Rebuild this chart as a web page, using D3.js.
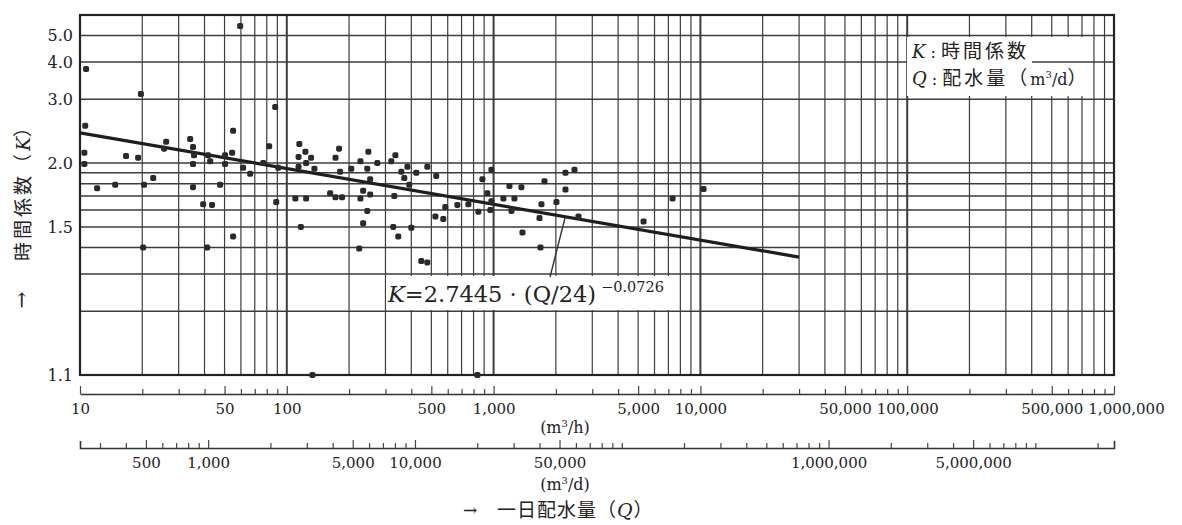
<!DOCTYPE html>
<html>
<head>
<meta charset="utf-8">
<script src="https://cdn.jsdelivr.net/npm/d3@7"></script>
<style>
  body { margin: 0; background: #fff; }
  text { fill: #222; }
</style>
</head>
<body>
<div id="chart"></div>
<script>
// observed flow (m3/h) and hourly peak coefficient K
const flowPerHour = [10.7, 10.6, 10.5, 10.5, 12.1, 14.8, 16.7, 19.1, 19.7, 20.4, 20.2, 22.6, 25.5, 26.1,
  34.1, 35.2, 35.6, 35.2, 35.2, 41.6, 42.6, 39.4, 43.5, 41.2, 47.6, 50.3, 50.3, 54.4, 55.0, 59.5,
  55.0, 61.5, 66.5, 76.9, 82.2, 87.9, 88.9, 90.9, 115, 123, 114, 131, 124, 114, 136, 179, 172, 181,
  205, 227, 248, 274, 245, 253, 335, 320, 358, 370, 162, 172, 185, 110, 124, 227, 234, 253, 245,
  234, 117, 327, 346, 224, 133, 331, 391, 383, 423, 400, 478, 528, 584, 523, 571, 668, 755, 844,
  965, 883, 976, 933, 976, 1115, 1261, 1193, 1363, 1220, 1379, 1762, 1704, 1667, 2013, 2226, 2461,
  2226, 2573, 447, 478, 1685, 835, 5311, 7336, 10360];
const hourCoef = [3.78, 2.50, 2.12, 1.99, 1.76, 1.79, 2.08, 2.06, 3.12, 1.79, 1.40, 1.85, 2.17, 2.26,
  2.30, 2.19, 2.09, 1.99, 1.77, 2.09, 2.02, 1.64, 1.635, 1.40, 1.79, 1.99, 2.09, 2.12, 2.42, 5.44,
  1.45, 1.95, 1.89, 2.00, 2.20, 2.84, 1.655, 1.95, 2.23, 2.13, 2.07, 2.06, 2.00, 1.96, 1.94, 2.17, 2.06, 1.91,
  1.94, 2.02, 2.13, 2.00, 1.94, 1.84, 2.09, 2.02, 1.91, 1.85, 1.72, 1.69, 1.69, 1.68, 1.68, 1.68, 1.74, 1.71, 1.595,
  1.52, 1.50, 1.50, 1.45, 1.395, 1.10, 1.70, 1.79, 1.96, 1.90, 1.495, 1.96, 1.87, 1.62, 1.56, 1.545, 1.635, 1.64, 1.59,
  1.60, 1.84, 1.93, 1.72, 1.66, 1.68, 1.68, 1.78, 1.77, 1.595, 1.47, 1.82, 1.64, 1.55, 1.655, 1.90, 1.93,
  1.75, 1.56, 1.345, 1.34, 1.40, 1.10, 1.53, 1.68, 1.755];

// regression line as drawn
const fitFlow = [10, 30000];
const fitCoef = [2.39, 1.36];

const yTickValues = [5.0, 4.0, 3.0, 2.0, 1.5, 1.1];
const yGridValues = [5, 4, 3, 2, 1.9, 1.8, 1.7, 1.6, 1.5, 1.4, 1.3, 1.2];
const hourLabels = [10, 50, 100, 500, 1000, 5000, 10000, 50000, 100000, 500000, 1000000];
const dayLabels = [500, 1000, 5000, 10000, 50000, 1000000, 5000000];

const width = 1182, height = 525;
const serif = "'DejaVu Serif', 'Liberation Serif', serif";
const cjk = "'Noto Sans CJK JP', sans-serif";
const gridColor = "#3d3d3d";

const svg = d3.select("#chart").append("svg")
  .attr("width", width)
  .attr("height", height);

// x: m3/h, y: log of (K - 1)
const x = d3.scaleLog().domain([10, 1e6]).range([80, 1114]);
const xDay = d3.scaleLog().domain([240, 2.4e7]).range([80, 1114]);
const yLog = d3.scaleLog().domain([0.1, 5]).range([375, 15]);
const y = k => yLog(k - 1);

// every 1..9 x 10^n between the ends
function logSteps(lo, hi) {
  const out = [];
  for (let e = Math.floor(Math.log10(lo)); e <= Math.ceil(Math.log10(hi)); e++) {
    for (let d = 1; d <= 9; d++) {
      const v = d * Math.pow(10, e);
      if (v >= lo * 0.999 && v <= hi * 1.001) out.push(v);
    }
  }
  return out;
}

const grid = svg.append("g");

// horizontal grid
yGridValues.forEach(k => {
  grid.append("line")
    .attr("x1", x(10)).attr("x2", x(1e6))
    .attr("y1", y(k)).attr("y2", y(k))
    .attr("stroke", gridColor)
    .attr("stroke-width", 1.5);
});

// vertical grid
logSteps(10, 1e6).slice(1, -1).forEach(v => {
  const decade = Math.abs(Math.log10(v) - Math.round(Math.log10(v))) < 1e-9;
  grid.append("line")
    .attr("x1", x(v)).attr("x2", x(v))
    .attr("y1", y(6)).attr("y2", y(1.1))
    .attr("stroke", gridColor)
    .attr("stroke-width", decade ? 2 : 1.2);
});

// frame
svg.append("rect")
  .attr("x", x(10)).attr("y", y(6))
  .attr("width", x(1e6) - x(10))
  .attr("height", y(1.1) - y(6))
  .attr("fill", "none")
  .attr("stroke", "#222")
  .attr("stroke-width", 2.2);

// y tick labels
yTickValues.forEach(k => {
  svg.append("text")
    .attr("x", 73)
    .attr("y", y(k))
    .attr("dy", "0.36em")
    .attr("text-anchor", "end")
    .style("font-family", serif)
    .style("font-size", "16px")
    .text(k.toFixed(1));
});

// y title
const yTitle = svg.append("text")
  .attr("transform", "translate(30,188) rotate(-90)")
  .attr("text-anchor", "middle")
  .style("font-family", cjk)
  .style("font-size", "19px")
  .style("letter-spacing", "3px");
yTitle.append("tspan").text("時間係数（");
yTitle.append("tspan").style("font-family", serif).style("font-style", "italic").style("letter-spacing", "0px").text("K");
yTitle.append("tspan").text("）");
svg.append("text")
  .attr("transform", "translate(28,300) rotate(-90)")
  .attr("text-anchor", "middle")
  .style("font-family", serif)
  .style("font-size", "20px")
  .text("→");

// regression line
svg.append("path")
  .datum(fitFlow.map((q, i) => [q, fitCoef[i]]))
  .attr("d", d3.line().x(d => x(d[0])).y(d => y(d[1])))
  .attr("fill", "none")
  .attr("stroke", "#1e1e1e")
  .attr("stroke-width", 3.2);

// points
svg.append("g")
  .selectAll("rect")
  .data(flowPerHour.map((q, i) => [q, hourCoef[i]]))
  .join("rect")
  .attr("x", d => x(d[0]) - 3)
  .attr("y", d => y(d[1]) - 3)
  .attr("width", 6)
  .attr("height", 6)
  .attr("rx", 1.8)
  .attr("fill", "#2a2a2a");

// formula label
svg.append("rect")
  .attr("x", 386).attr("y", 276)
  .attr("width", 292).attr("height", 34)
  .attr("fill", "#fff");
svg.append("line")
  .attr("x1", 565).attr("y1", 218)
  .attr("x2", 550).attr("y2", 277)
  .attr("stroke", "#333")
  .attr("stroke-width", 1.4);
const formula = svg.append("text")
  .attr("x", 388)
  .attr("y", 302)
  .style("font-family", serif)
  .style("font-size", "22.5px");
formula.append("tspan").style("font-style", "italic").text("K");
formula.append("tspan").text("=2.7445 · (Q/24)");
formula.append("tspan").attr("dy", -10).attr("dx", 5).style("font-size", "14.5px").text("−0.0726");

// legend
svg.append("rect")
  .attr("x", 907).attr("y", 37)
  .attr("width", 180).attr("height", 59)
  .attr("fill", "#fff");
const leg1 = svg.append("text").attr("x", 912).attr("y", 58);
leg1.append("tspan").style("font-family", serif).style("font-style", "italic").style("font-size", "18px").text("K");
leg1.append("tspan").style("font-family", serif).style("font-size", "16px").text(" : ");
leg1.append("tspan").style("font-family", cjk).style("font-size", "19px").style("letter-spacing", "3px").text("時間係数");
const leg2 = svg.append("text").attr("x", 912).attr("y", 85);
leg2.append("tspan").style("font-family", serif).style("font-style", "italic").style("font-size", "18px").text("Q");
leg2.append("tspan").style("font-family", serif).style("font-size", "16px").text(" : ");
leg2.append("tspan").style("font-family", cjk).style("font-size", "19px").style("letter-spacing", "3px").text("配水量（");
leg2.append("tspan").style("font-family", serif).style("font-size", "16px").text("m");
leg2.append("tspan").style("font-family", serif).style("font-size", "10px").attr("dy", -7).text("3");
leg2.append("tspan").style("font-family", serif).style("font-size", "16px").attr("dy", 7).text("/d");
leg2.append("tspan").style("font-family", cjk).style("font-size", "19px").text("）");
// the 4.0 grid line reappears right of the first legend row
const leg1Box = leg1.node().getBBox();
svg.append("line")
  .attr("x1", leg1Box.x + leg1Box.width + 3).attr("x2", 1087)
  .attr("y1", y(4)).attr("y2", y(4))
  .attr("stroke", gridColor)
  .attr("stroke-width", 1.5);

// m3/h axis
const fmt = d3.format(",");
const hourAxis = svg.append("g")
  .attr("transform", "translate(0,394)")
  .call(d3.axisBottom(x)
    .tickValues(logSteps(10, 1e6))
    .tickSizeInner(-5)
    .tickSizeOuter(0)
    .tickPadding(9)
    .tickFormat(d => hourLabels.includes(d) ? fmt(d) : ""));

// m3/d axis
const dayAxis = svg.append("g")
  .attr("transform", "translate(0,448)")
  .call(d3.axisBottom(xDay)
    .tickValues(logSteps(300, 2e7))
    .tickSizeInner(-5)
    .tickSizeOuter(-7)
    .tickPadding(9)
    .tickFormat(d => dayLabels.includes(d) ? fmt(d) : ""));

[[hourAxis, hourLabels], [dayAxis, dayLabels]].forEach(([g, labels]) => {
  g.select(".domain").attr("stroke", "#333").attr("stroke-width", 1.6);
  g.selectAll(".tick line")
    .attr("stroke", "#444")
    .attr("stroke-width", 1.2)
    .attr("y2", d => labels.includes(d) ? -8 : -5);
  g.selectAll(".tick text")
    .style("font-family", serif)
    .style("font-size", "15px")
    .attr("fill", "#222");
});
// last label sits a little to the right, clear of 500,000
hourAxis.selectAll(".tick text")
  .filter(d => d === 1000000)
  .attr("dx", 12);

// units and title
function unit(yPos, u) {
  const t = svg.append("text")
    .attr("x", 565).attr("y", yPos)
    .attr("text-anchor", "middle")
    .style("font-family", serif)
    .style("font-size", "16px");
  t.append("tspan").text("(m");
  t.append("tspan").attr("dy", -6).style("font-size", "10px").text("3");
  t.append("tspan").attr("dy", 6).text("/" + u + ")");
}
unit(433, "h");
unit(490, "d");

svg.append("text")
  .attr("x", 463).attr("y", 516)
  .style("font-family", serif)
  .style("font-size", "17px")
  .text("→");
const xTitle = svg.append("text")
  .attr("x", 497).attr("y", 517)
  .style("font-family", cjk)
  .style("font-size", "19px")
  .style("letter-spacing", "1px");
xTitle.append("tspan").text("一日配水量（");
xTitle.append("tspan").style("font-family", serif).style("font-style", "italic").text("Q");
xTitle.append("tspan").text("）");
</script>
</body>
</html>
